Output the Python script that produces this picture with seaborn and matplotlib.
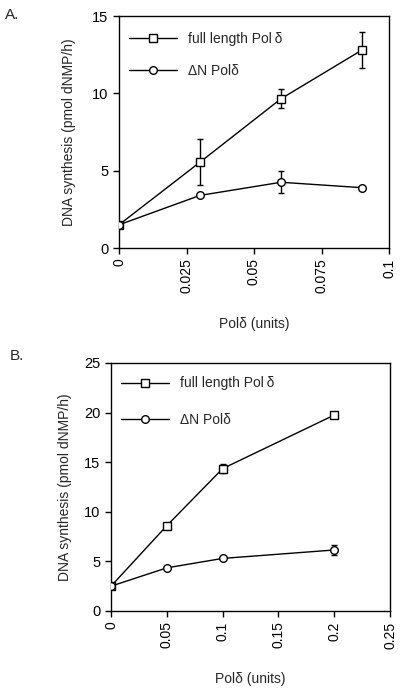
import matplotlib
matplotlib.use("Agg")
import matplotlib.pyplot as plt
import seaborn as sns
import pandas as pd
import numpy as np

# Panel A data
a_x = [0, 0.03, 0.06, 0.09]
a_full = [1.5, 5.55, 9.65, 12.8]
a_full_err = [0.0, 1.5, 0.6, 1.15]
a_dn = [1.5, 3.4, 4.25, 3.9]
a_dn_err = [0.0, 0.0, 0.7, 0.0]

# Panel B data
b_x = [0, 0.05, 0.1, 0.2]
b_full = [2.5, 8.6, 14.35, 19.75]
b_full_err = [0.0, 0.0, 0.45, 0.0]
b_dn = [2.5, 4.35, 5.3, 6.15]
b_dn_err = [0.0, 0.0, 0.0, 0.5]

a_xticks = [0, 0.025, 0.05, 0.075, 0.1]
a_xticklabels = ["0", "0.025", "0.05", "0.075", "0.1"]
a_yticks = [0, 5, 10, 15]
b_xticks = [0, 0.05, 0.1, 0.15, 0.2, 0.25]
b_xticklabels = ["0", "0.05", "0.1", "0.15", "0.2", "0.25"]
b_yticks = [0, 5, 10, 15, 20, 25]

series_names = ["full length Pol\u2009δ", "ΔN Polδ"]

sns.set_style("ticks")
plt.rcParams["font.family"] = ["Liberation Sans", "DejaVu Sans"]

fig = plt.figure(figsize=(4.0, 6.89), dpi=100)
W, H = 400, 689
axA = fig.add_axes([119 / W, 1 - 248 / H, (389 - 119) / W, (248 - 16) / H])
axB = fig.add_axes([111 / W, 1 - 611 / H, (390 - 111) / W, (611 - 363) / H])


def draw(ax, x, full, full_err, dn, dn_err, xticks, xticklabels, yticks, xmax, ymax,
         xpad, ypad, lspace, ltop):
    df = pd.DataFrame({
        "x": x + x,
        "y": full + dn,
        "series": [series_names[0]] * len(x) + [series_names[1]] * len(x),
    })
    for yv, err in [(full, full_err), (dn, dn_err)]:
        e = np.array(err)
        mask = e > 0
        ax.errorbar(np.array(x)[mask], np.array(yv)[mask], yerr=e[mask], fmt="none",
                    ecolor="black", elinewidth=1.0, capsize=2.5, capthick=1.0, zorder=2)
    sns.lineplot(data=df, x="x", y="y", hue="series", style="series",
                 markers={series_names[0]: "s", series_names[1]: "o"},
                 dashes=False, palette=["black", "black"], ax=ax,
                 markersize=5.5, markerfacecolor="white", markeredgecolor="black",
                 markeredgewidth=1.0, linewidth=1.0, zorder=3)
    ax.set_xlim(0, xmax)
    ax.set_ylim(0, ymax)
    ax.set_xticks(xticks)
    ax.set_xticklabels(xticklabels, rotation=90, fontsize=10)
    ax.set_yticks(yticks)
    ax.set_yticklabels([str(t) for t in yticks], fontsize=10.5)
    ax.tick_params(direction="out", length=4, width=1, colors="black")
    for s in ax.spines.values():
        s.set_visible(True)
        s.set_linewidth(1.0)
        s.set_color("black")
    ax.set_xlabel("Polδ (units)", fontsize=10, labelpad=xpad)
    ax.set_ylabel("DNA synthesis (pmol dNMP/h)", fontsize=10, labelpad=ypad)
    leg = ax.legend(loc="upper left", bbox_to_anchor=(0.0, ltop), frameon=False,
                    fontsize=10, handlelength=3.4, handletextpad=0.8,
                    labelspacing=lspace, borderaxespad=0.35)
    for h in leg.legend_handles:
        h.set_markerfacecolor("white")
        h.set_markeredgecolor("black")
    ax.set_facecolor("white")


draw(axA, a_x, a_full, a_full_err, a_dn, a_dn_err, a_xticks, a_xticklabels, a_yticks,
     0.1, 15, 17, 12, 1.3, 0.975)
draw(axB, b_x, b_full, b_full_err, b_dn, b_dn_err, b_xticks, b_xticklabels, b_yticks,
     0.25, 25, 17, 9, 1.6, 0.988)

fig.text(5 / W, 1 - 15 / H, "A.", fontsize=11, ha="left", va="center")
fig.text(10 / W, 1 - 356 / H, "B.", fontsize=11, ha="left", va="center")

fig.savefig("out.png", dpi=100, facecolor="white")
